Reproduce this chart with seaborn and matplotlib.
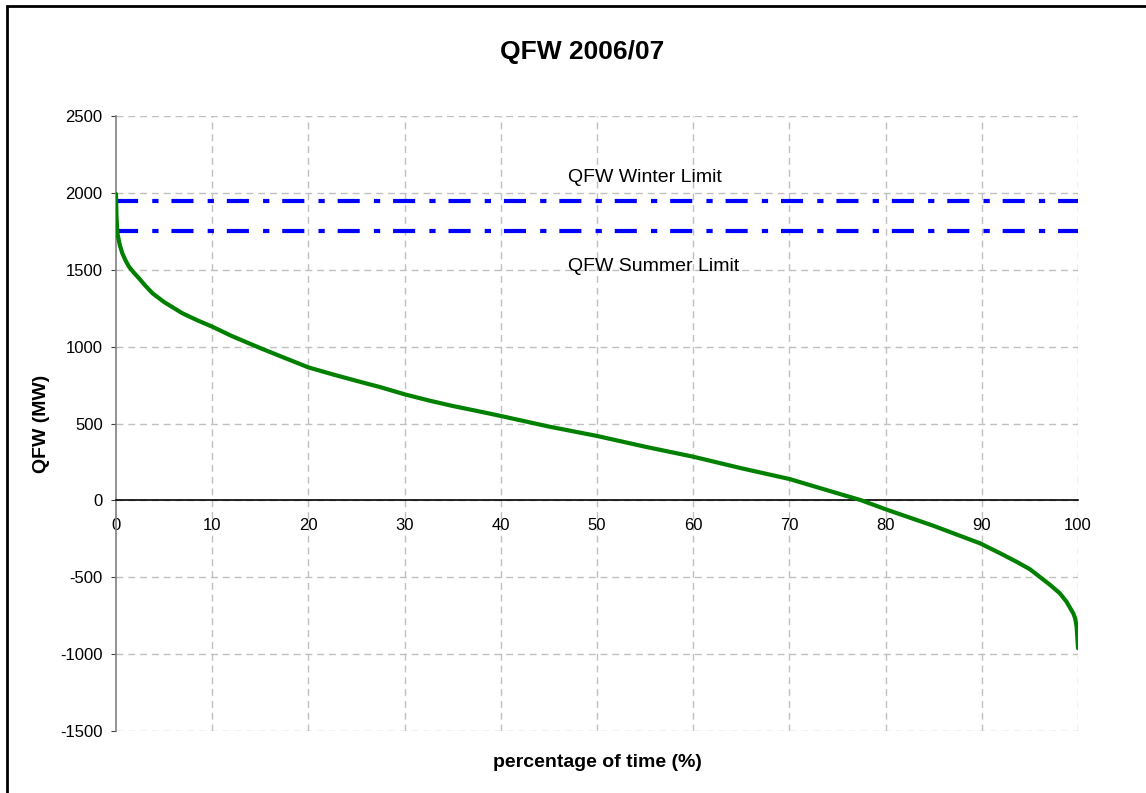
import numpy as np
import seaborn as sns
import matplotlib
matplotlib.use("Agg")
import matplotlib.pyplot as plt
from matplotlib.patches import Rectangle

# duration curve
pct_time = [0, 0.05, 0.14, 0.4, 0.66, 1.0, 1.35, 1.8, 2.4, 3.0, 3.8, 5.0, 6.9,
            8.5, 10, 12, 14.9, 17, 20, 22.5, 24.9, 27.5, 30, 32.5, 35, 37.5,
            40, 45, 50, 55, 60, 65, 70, 75, 77.5, 80, 85, 89.8, 91.9, 93.6, 95,
            97.1, 98.1, 98.8, 99.5, 99.7, 99.85, 100]
qfw_mw = [1993, 1850, 1740, 1660, 1607, 1560, 1520, 1485, 1444, 1400, 1347,
          1290, 1217, 1170, 1130, 1070, 993, 940, 865, 820, 779, 736, 690, 650,
          614, 582, 549, 480, 419, 349, 284, 209, 139, 46, 0, -58, -166, -279,
          -344, -399, -448, -550, -604, -659, -734, -767, -821, -962]

winter_limit = 1950
summer_limit = 1750
limit_labels = ["QFW Winter Limit", "QFW Summer Limit"]

x_ticks = list(range(0, 101, 10))
y_ticks = list(range(-1500, 2501, 500))

sns.set_style("white")
plt.rcParams["font.family"] = ["Liberation Sans", "DejaVu Sans"]
plt.rcParams["text.color"] = "black"
plt.rcParams["xtick.color"] = "black"
plt.rcParams["ytick.color"] = "black"
plt.rcParams["axes.labelcolor"] = "black"
plt.rcParams["axes.unicode_minus"] = False

fig = plt.figure(figsize=(11.46, 7.93), dpi=100)
ax = fig.add_axes([0.1012, 0.0782, 0.8395, 0.7755])

grid_style = dict(color="#c0c0c0", lw=1, ls=(0, (5, 3.5)))
for xv in x_ticks[1:]:
    ax.axvline(xv, zorder=0, **grid_style)
for yv in y_ticks:
    ax.axhline(yv, zorder=0, **grid_style)

dash_dot = (0, (5.3, 3.4, 1.5, 3.1))
ax.axhline(winter_limit, color="#0000ff", lw=3, ls=dash_dot, zorder=2)
ax.axhline(summer_limit, color="#0000ff", lw=3, ls=dash_dot, zorder=2)

sns.lineplot(x=pct_time, y=qfw_mw, color="#008000", lw=3, ax=ax, zorder=3)

ax.text(47.0, 2097, limit_labels[0], fontsize=14, va="center", ha="left")
ax.text(47.0, 1518, limit_labels[1], fontsize=14, va="center", ha="left")

ax.set_xlim(0, 100)
ax.set_ylim(-1500, 2500)
ax.set_xticks(x_ticks)
ax.set_yticks(y_ticks)
ax.tick_params(axis="both", labelsize=12, direction="out")
ax.tick_params(axis="x", length=3, pad=10, color="#404040")
ax.tick_params(axis="y", length=3.6, pad=6, color="#404040", left=True)

ax.spines["top"].set_visible(False)
ax.spines["right"].set_visible(False)
ax.spines["bottom"].set_position(("data", 0))
ax.spines["bottom"].set_color("black")
ax.spines["bottom"].set_linewidth(1.2)
ax.spines["left"].set_color("#808080")
ax.spines["left"].set_linewidth(1.2)

ax.set_xlabel("percentage of time (%)", fontsize=14, fontweight="bold", va="center")
ax.xaxis.set_label_coords(0.5, -0.052)
ax.set_ylabel("QFW (MW)", fontsize=14, fontweight="bold", va="center")
ax.yaxis.set_label_coords(-0.0772, 0.5)

fig.suptitle("QFW 2006/07", x=0.5076, y=0.935, va="center",
             fontsize=19, fontweight="bold")

fig.patches.append(Rectangle((0.0063, -0.1), 1.2, 1.0925, transform=fig.transFigure,
                             fill=False, lw=2, edgecolor="black", clip_on=False))

fig.savefig("out.png", dpi=100)
